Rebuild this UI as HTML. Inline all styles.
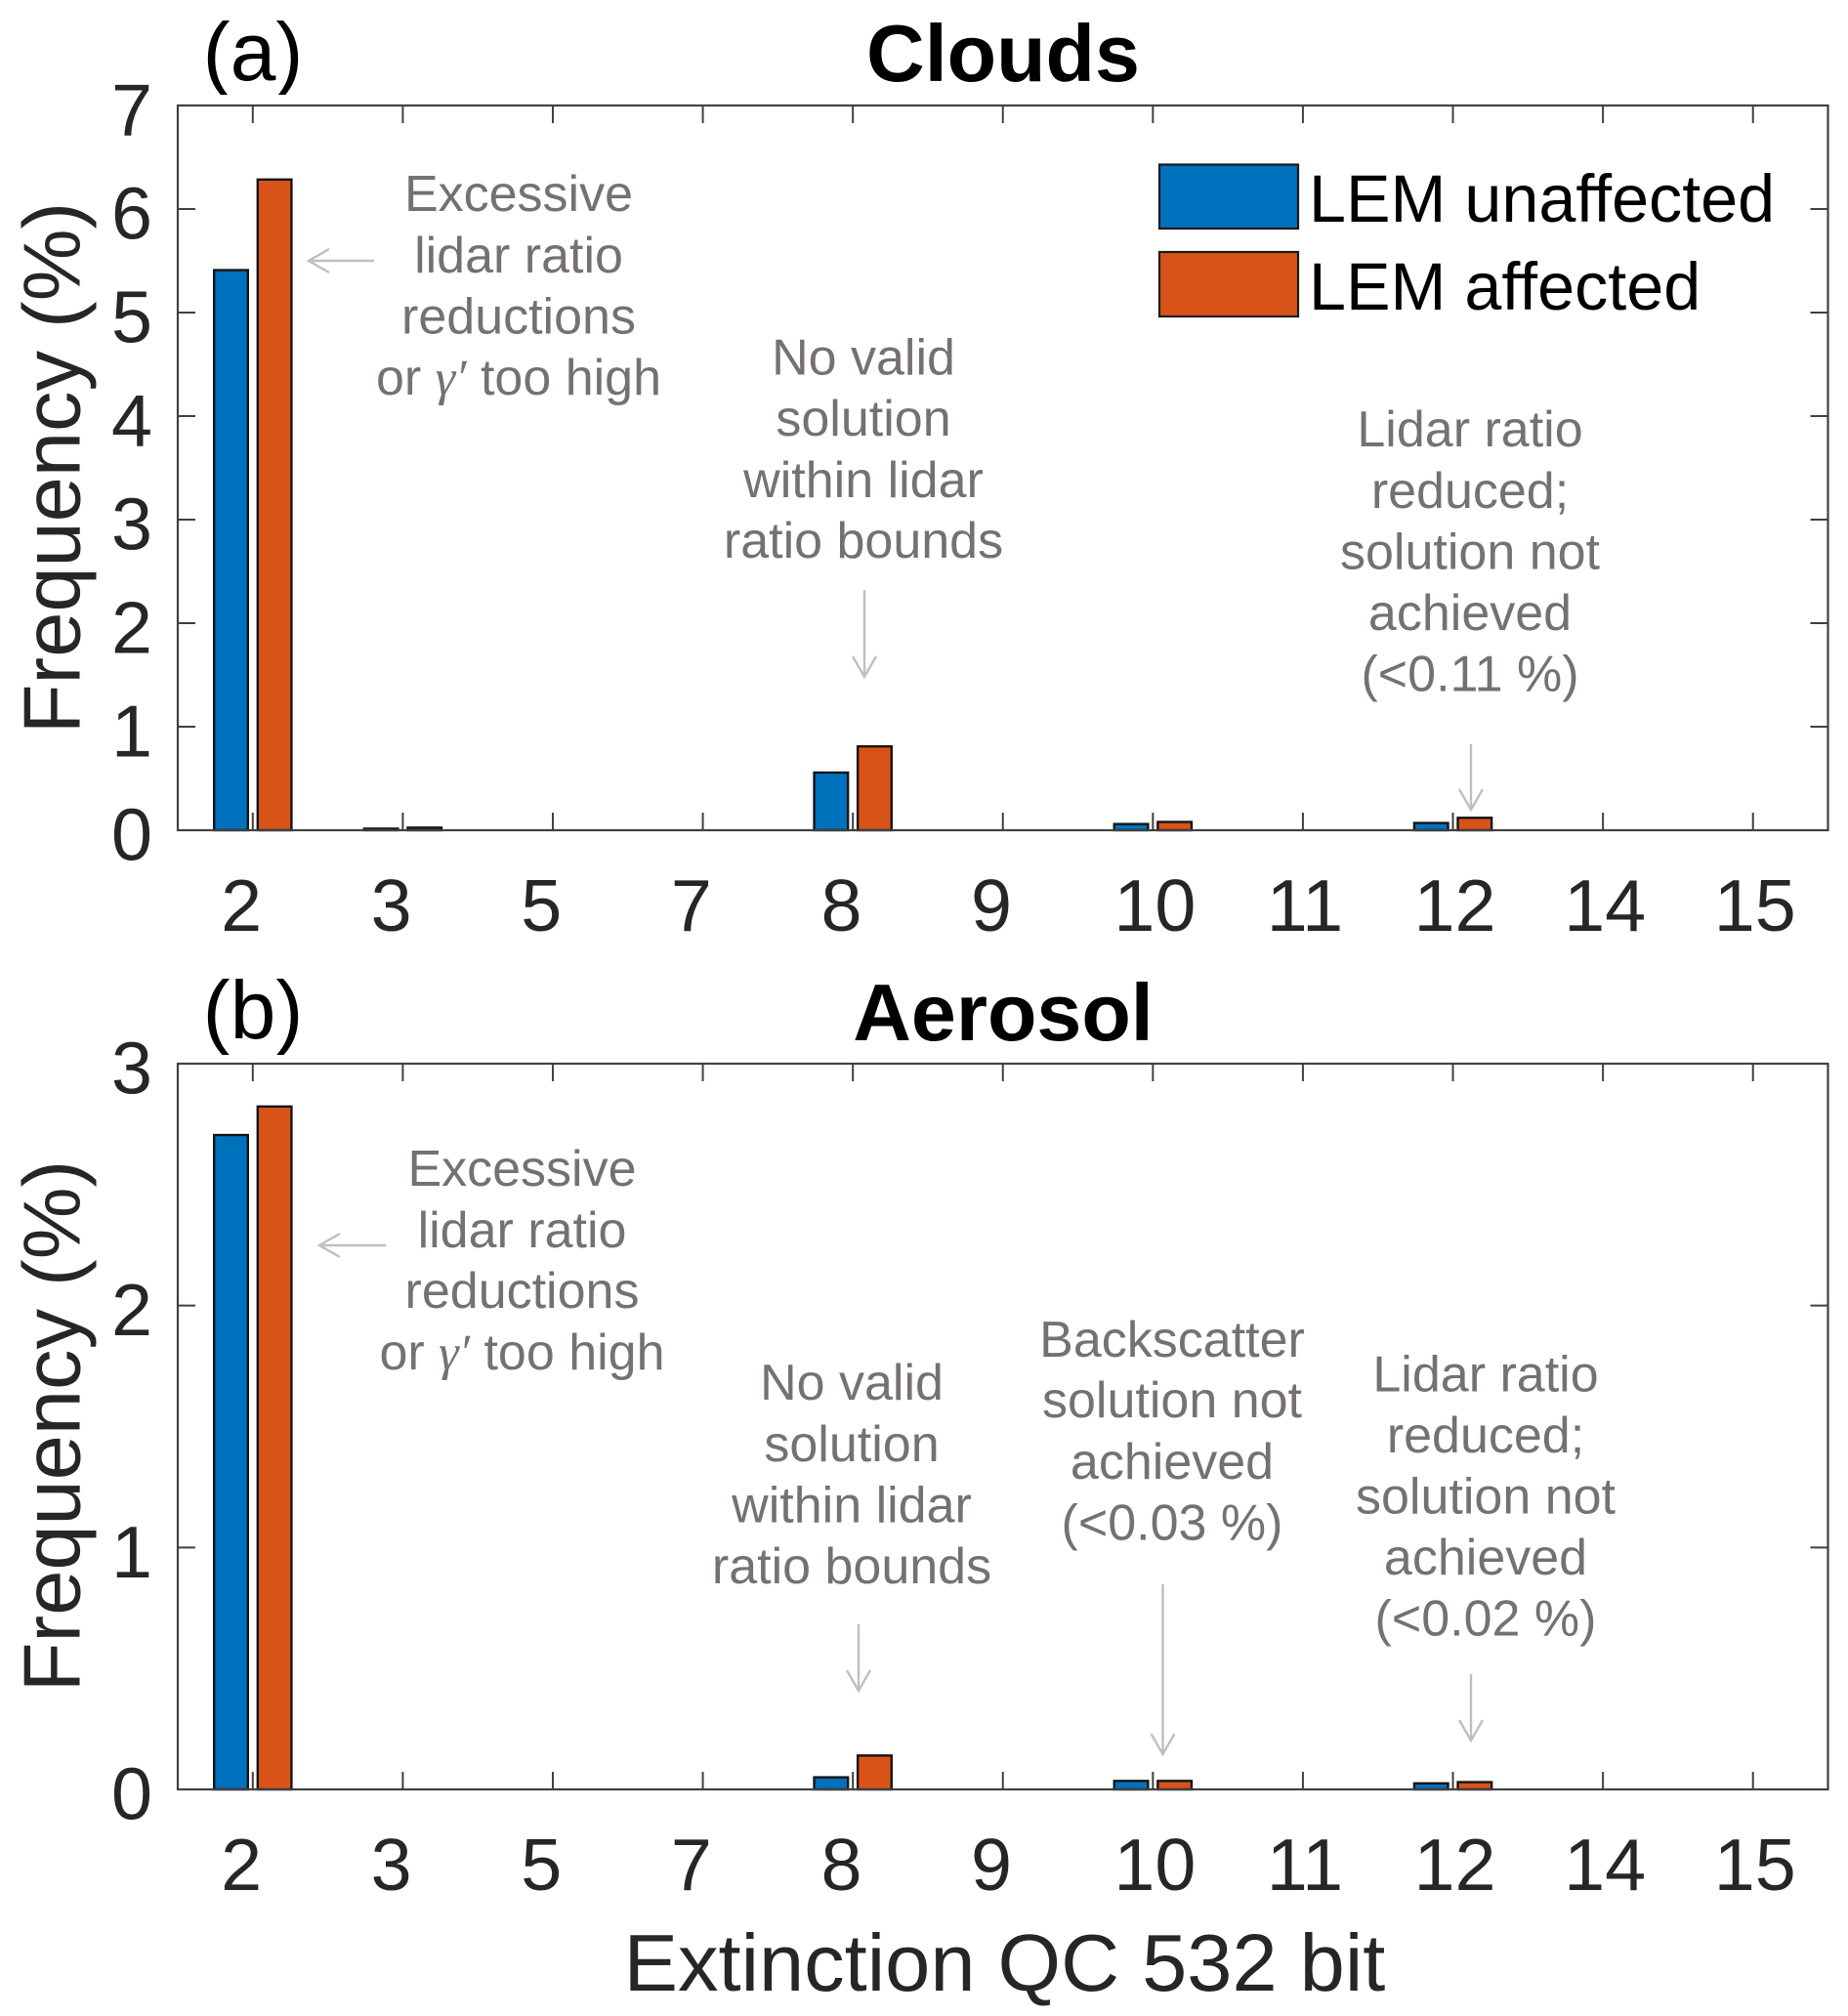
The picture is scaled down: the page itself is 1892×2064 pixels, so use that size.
<!DOCTYPE html>
<html lang="en">
<head>
<meta charset="utf-8">
<title>Extinction QC 532 bit frequency: Clouds and Aerosol</title>
<style>
html,body{margin:0;padding:0;background:#fff;width:1892px;height:2064px;overflow:hidden}
svg{display:block;font-family:"Liberation Sans",sans-serif}
.note{font-size:52px;fill:#767171;text-anchor:middle}
.gk{font-family:"Liberation Serif",serif;font-style:italic}
.arrow{fill:none;stroke:#bfbfbf;stroke-width:2.4}
.panel-label{font-size:84px;fill:#000;text-anchor:middle}
.title{font-size:82.6px;font-weight:bold;fill:#000;text-anchor:middle}
.legend-text{font-size:68.3px;fill:#000}
.axis-title{font-size:83px;fill:#262626;text-anchor:middle}
</style>
</head>
<body>
<svg id="figure" xmlns="http://www.w3.org/2000/svg" width="1892" height="2064" viewBox="0 0 1892 2064">
  <defs>
    <clipPath id="clip-a"><rect x="150" y="19" width="220" height="78"/></clipPath>
    <clipPath id="clip-b"><rect x="150" y="1002" width="220" height="78"/></clipPath>
  </defs>
  <rect x="0" y="0" width="1892" height="2064" fill="#fff"/>
  <g id="chart-layer"></g>

  <g clip-path="url(#clip-a)"><text class="panel-label" x="259" y="82">(a)</text></g>
  <g clip-path="url(#clip-b)"><text class="panel-label" x="259" y="1063">(b)</text></g>
  <text class="title" x="1027" y="83">Clouds</text>
  <text class="title" x="1027" y="1065">Aerosol</text>

  <text class="axis-title" transform="translate(81.5 479) rotate(-90)">Frequency (%)</text>
  <text class="axis-title" transform="translate(81.5 1460) rotate(-90)">Frequency (%)</text>
  <text class="axis-title" x="1028.5" y="2038">Extinction QC 532 bit</text>

  <g>
    <rect x="1187" y="168.5" width="142" height="65.5" fill="#0072BD" stroke="#1a1a1a" stroke-width="2.2"/>
    <text class="legend-text" x="1340" y="227">LEM unaffected</text>
    <rect x="1187" y="258" width="142" height="66" fill="#D95319" stroke="#1a1a1a" stroke-width="2.2"/>
    <text class="legend-text" x="1340" y="317">LEM affected</text>
  </g>

  <g>
    <text class="note" x="531" y="216">Excessive</text>
    <text class="note" x="531" y="279">lidar ratio</text>
    <text class="note" x="531" y="341.5">reductions</text>
    <text class="note" x="531" y="404">or <tspan class="gk">γ′</tspan> too high</text>
  </g>
  <g>
    <text class="note" x="884" y="383.5">No valid</text>
    <text class="note" x="884" y="446">solution</text>
    <text class="note" x="884" y="509">within lidar</text>
    <text class="note" x="884" y="571">ratio bounds</text>
  </g>
  <g>
    <text class="note" x="1505" y="457">Lidar ratio</text>
    <text class="note" x="1505" y="520">reduced;</text>
    <text class="note" x="1505" y="582.5">solution not</text>
    <text class="note" x="1505" y="645">achieved</text>
    <text class="note" x="1505" y="707.5">(&lt;0.11 %)</text>
  </g>
  <g>
    <text class="note" x="534.5" y="1214">Excessive</text>
    <text class="note" x="534.5" y="1277">lidar ratio</text>
    <text class="note" x="534.5" y="1339">reductions</text>
    <text class="note" x="534.5" y="1402">or <tspan class="gk">γ′</tspan> too high</text>
  </g>
  <g>
    <text class="note" x="872" y="1433">No valid</text>
    <text class="note" x="872" y="1496">solution</text>
    <text class="note" x="872" y="1558.5">within lidar</text>
    <text class="note" x="872" y="1621">ratio bounds</text>
  </g>
  <g>
    <text class="note" x="1200" y="1389">Backscatter</text>
    <text class="note" x="1200" y="1451">solution not</text>
    <text class="note" x="1200" y="1514">achieved</text>
    <text class="note" x="1200" y="1576.5">(&lt;0.03 %)</text>
  </g>
  <g>
    <text class="note" x="1521" y="1424.5">Lidar ratio</text>
    <text class="note" x="1521" y="1487">reduced;</text>
    <text class="note" x="1521" y="1549.5">solution not</text>
    <text class="note" x="1521" y="1612">achieved</text>
    <text class="note" x="1521" y="1674.5">(&lt;0.02 %)</text>
  </g>

  <path class="arrow" d="M383 267H316M337 255L316 267L337 279"/>
  <path class="arrow" d="M885 604V693M873 672L885 693L897 672"/>
  <path class="arrow" d="M1506 762V829M1494 808L1506 829L1518 808"/>
  <path class="arrow" d="M395 1275H327M348 1263L327 1275L348 1287"/>
  <path class="arrow" d="M879 1663V1731M867 1710L879 1731L891 1710"/>
  <path class="arrow" d="M1190.5 1622V1796M1178.5 1775L1190.5 1796L1202.5 1775"/>
  <path class="arrow" d="M1506 1714V1782M1494 1761L1506 1782L1518 1761"/>
</svg>

<script>
const categories = ['2', '3', '5', '7', '8', '9', '10', '11', '12', '14', '15'];
const cloudsUnaffected = [5.41, 0.015, 0, 0, 0.557, 0, 0.06, 0, 0.07, 0, 0];
const cloudsAffected = [6.285, 0.025, 0, 0, 0.81, 0, 0.08, 0, 0.12, 0, 0];
const aerosolUnaffected = [2.705, 0, 0, 0, 0.05, 0, 0.035, 0, 0.025, 0, 0];
const aerosolAffected = [2.823, 0, 0, 0, 0.14, 0, 0.035, 0, 0.03, 0, 0];
const cloudsYTicks = [0, 1, 2, 3, 4, 5, 6, 7];
const aerosolYTicks = [0, 1, 2, 3];

const NS = 'http://www.w3.org/2000/svg';
const layer = document.getElementById('chart-layer');
const plotLeft = 182;
const plotRight = 1871.5;
const tickLen = 18;
const band = (plotRight - plotLeft) / categories.length;
const xScale = i => plotLeft + (i + 0.5) * band;
const xLabelScale = i => xScale(i) + (categories[i].length > 1 ? 2 : -11.7);

function make(tag, attrs, parent) {
  const el = document.createElementNS(NS, tag);
  for (const k in attrs) el.setAttribute(k, attrs[k]);
  parent.appendChild(el);
  return el;
}

function drawPanel(prefix, top, bottom, yMax, yTicks, unaffected, affected) {
  const yScale = v => bottom - (v / yMax) * (bottom - top);
  const g = make('g', {}, layer);
  
  

  const axisStyle = { stroke: '#404040', 'stroke-width': 2, fill: 'none' };

  categories.forEach((c, i) => {
    const x = xScale(i);
    const tb = make('line', Object.assign({ x1: x, x2: x, y1: bottom, y2: bottom - tickLen }, axisStyle), g);
    
    
    const tt = make('line', Object.assign({ x1: x, x2: x, y1: top, y2: top + tickLen }, axisStyle), g);
    
    

    const lab = make('text', { x: xLabelScale(i), y: bottom + 103, 'text-anchor': 'middle', 'font-size': 75.5, fill: '#262626' }, g);
    lab.textContent = c;
    
    
  });

  yTicks.forEach(v => {
    const y = yScale(v);
    const tl = make('line', Object.assign({ x1: plotLeft, x2: plotLeft + tickLen, y1: y, y2: y }, axisStyle), g);
    
    
    const tr = make('line', Object.assign({ x1: plotRight, x2: plotRight - tickLen, y1: y, y2: y }, axisStyle), g);
    
    

    const lab = make('text', { x: 156, y: y + 30.5, 'text-anchor': 'end', 'font-size': 75.5, fill: '#262626' }, g);
    lab.textContent = String(v);
    
    
  });

  const barW = 34.6;
  categories.forEach((c, i) => {
    const yA = yScale(unaffected[i]);
    const blue = make('rect', { x: xScale(i) - 22.3 - barW / 2, y: yA, width: barW, height: bottom - yA, fill: '#0072BD', stroke: '#141414', 'stroke-width': 2.4 }, g);
    
    
    const yB = yScale(affected[i]);
    const orange = make('rect', { x: xScale(i) + 22.3 - barW / 2, y: yB, width: barW, height: bottom - yB, fill: '#D95319', stroke: '#141414', 'stroke-width': 2.4 }, g);
    
    
  });

  const frame = make('rect', { x: plotLeft, y: top, width: plotRight - plotLeft, height: bottom - top, stroke: '#404040', 'stroke-width': 2.2, fill: 'none' }, g);
  
  
}

drawPanel('clouds', 108, 850, 7, cloudsYTicks, cloudsUnaffected, cloudsAffected);
drawPanel('aerosol', 1089, 1832, 3, aerosolYTicks, aerosolUnaffected, aerosolAffected);
</script>
</body>
</html>
